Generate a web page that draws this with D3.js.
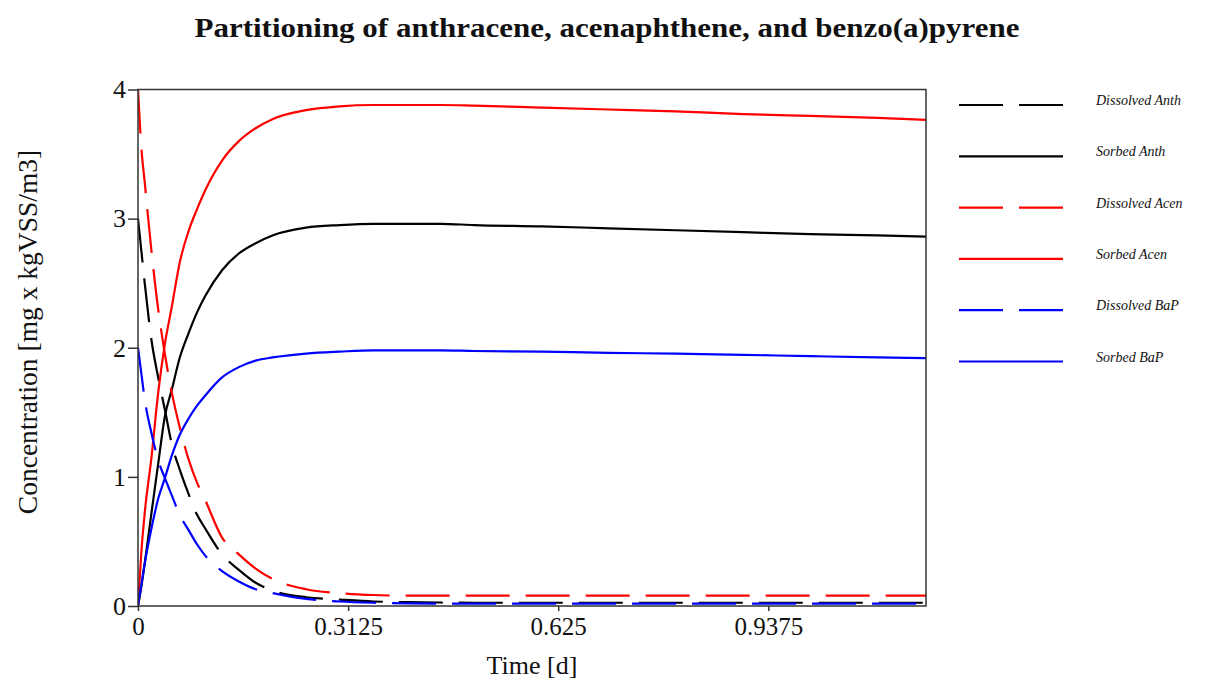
<!DOCTYPE html>
<html>
<head>
<meta charset="utf-8">
<script src="https://cdn.jsdelivr.net/npm/d3@7"></script>
<style>
  body { margin: 0; background: #fff; }
  text { font-family: "Liberation Serif", "Times New Roman", serif; fill: #111; }
</style>
</head>
<body>
<svg width="1209" height="682"></svg>
<script>
// time axis [d]
var time = [0, 0.005, 0.01, 0.02, 0.03, 0.04, 0.05, 0.0625, 0.075, 0.0875, 0.1, 0.125, 0.15, 0.175,
            0.2, 0.25, 0.3, 0.35, 0.4, 0.45, 0.5, 0.6, 0.7, 0.8, 0.9, 1.0, 1.1, 1.172];

var dissAnth = [3.0, 2.75, 2.5, 2.06, 1.77, 1.52, 1.26, 1.05, 0.87, 0.71, 0.6, 0.4, 0.28, 0.18,
                0.12, 0.068, 0.05, 0.035, 0.03, 0.027, 0.025, 0.025, 0.025, 0.025, 0.025, 0.025, 0.025, 0.025];
var sorbAnth = [0, 0.15, 0.33, 0.72, 1.1, 1.47, 1.67, 1.93, 2.11, 2.27, 2.40, 2.6, 2.73, 2.81,
                2.87, 2.93, 2.95, 2.96, 2.96, 2.96, 2.95, 2.94, 2.925, 2.91, 2.895, 2.88, 2.87, 2.86];
var dissAcen = [4.0, 3.55, 3.28, 2.75, 2.3, 1.95, 1.66, 1.375, 1.14, 0.96, 0.82, 0.53, 0.40, 0.29,
                0.21, 0.13, 0.1, 0.085, 0.08, 0.08, 0.08, 0.08, 0.08, 0.08, 0.08, 0.08, 0.08, 0.08];
var sorbAcen = [0, 0.42, 0.72, 1.15, 1.65, 2.03, 2.31, 2.67, 2.9, 3.07, 3.22, 3.45, 3.6, 3.7,
                3.77, 3.84, 3.87, 3.88, 3.88, 3.88, 3.875, 3.86, 3.845, 3.83, 3.81, 3.795, 3.78, 3.765];
var dissBaP = [2.0, 1.8, 1.6, 1.34, 1.13, 0.99, 0.86, 0.70, 0.59, 0.48, 0.39, 0.27, 0.19, 0.13,
               0.10, 0.055, 0.035, 0.025, 0.02, 0.018, 0.018, 0.018, 0.018, 0.018, 0.018, 0.018, 0.018, 0.018];
var sorbBaP = [0, 0.17, 0.33, 0.6, 0.83, 0.99, 1.16, 1.33, 1.45, 1.55, 1.63, 1.77, 1.85, 1.90,
               1.925, 1.955, 1.97, 1.98, 1.98, 1.98, 1.975, 1.97, 1.96, 1.955, 1.945, 1.935, 1.925, 1.92];

var xTicks = [0, 0.3125, 0.625, 0.9375];
var yTicks = [0, 1, 2, 3, 4];

var series = [
  {name: "Dissolved Anth", values: dissAnth, color: "#000", dash: "44,16"},
  {name: "Sorbed Anth",    values: sorbAnth, color: "#000", dash: null},
  {name: "Dissolved Acen", values: dissAcen, color: "#f00", dash: "44,16"},
  {name: "Sorbed Acen",    values: sorbAcen, color: "#f00", dash: null},
  {name: "Dissolved BaP",  values: dissBaP,  color: "#00f", dash: "44,16"},
  {name: "Sorbed BaP",     values: sorbBaP,  color: "#00f", dash: null}
];

var svg = d3.select("svg");
var pL = 138, pR = 926, pT = 89.5, pB = 606;

var x = d3.scaleLinear().domain([0, 1.172]).range([pL, pR]);
var y = d3.scaleLinear().domain([0, 4]).range([pB, pT]);

svg.append("text")
  .attr("x", 607).attr("y", 37)
  .attr("text-anchor", "middle")
  .attr("font-size", 27).attr("font-weight", "bold")
  .attr("textLength", 825).attr("lengthAdjust", "spacingAndGlyphs")
  .text("Partitioning of anthracene, acenaphthene, and benzo(a)pyrene");

svg.append("clipPath").attr("id", "clip")
  .append("rect").attr("x", pL).attr("y", pT).attr("width", pR - pL).attr("height", pB - pT);

var line = d3.line()
  .x((d, i) => x(time[i]))
  .y(d => y(d))
  .curve(d3.curveMonotoneX);

svg.append("g").attr("clip-path", "url(#clip)")
  .selectAll("path")
  .data(series)
  .enter()
  .append("path")
    .attr("d", d => line(d.values))
    .attr("fill", "none")
    .attr("stroke", d => d.color)
    .attr("stroke-width", 2.2)
    .attr("stroke-dasharray", d => d.dash);

// frame
svg.append("rect")
  .attr("x", pL).attr("y", pT)
  .attr("width", pR - pL).attr("height", pB - pT)
  .attr("fill", "none").attr("stroke", "#333").attr("stroke-width", 1.5);

var xAxis = svg.append("g")
  .attr("transform", "translate(0," + pB + ")")
  .call(d3.axisBottom(x).tickValues(xTicks).tickFormat(d => d).tickSize(5).tickSizeOuter(0));
xAxis.select(".domain").remove();
xAxis.selectAll("line").attr("stroke", "#333").attr("stroke-width", 1.5);
xAxis.selectAll("text").attr("font-size", 25).attr("dy", "0.85em").attr("fill", "#111")
  .attr("font-family", "Liberation Serif, serif");

var yAxis = svg.append("g")
  .attr("transform", "translate(" + pL + ",0)")
  .call(d3.axisLeft(y).tickValues(yTicks).tickFormat(d3.format("d")).tickSize(10).tickSizeOuter(0));
yAxis.select(".domain").remove();
yAxis.selectAll("line").attr("stroke", "#333").attr("stroke-width", 1.5);
yAxis.selectAll("text").attr("font-size", 26).attr("x", -12).attr("fill", "#111")
  .attr("font-family", "Liberation Serif, serif");

svg.append("text")
  .attr("x", (pL + pR) / 2).attr("y", 674)
  .attr("text-anchor", "middle").attr("font-size", 26)
  .text("Time [d]");

svg.append("text")
  .attr("transform", "translate(37,332) rotate(-90)")
  .attr("text-anchor", "middle").attr("font-size", 27.5)
  .text("Concentration [mg x kgVSS/m3]");

// legend
var legend = svg.append("g")
  .selectAll("g")
  .data(series)
  .enter()
  .append("g")
    .attr("transform", (d, i) => "translate(959," + (105 + i * 51.3) + ")");

legend.append("line")
  .attr("x1", 0).attr("x2", 104)
  .attr("stroke", d => d.color)
  .attr("stroke-width", 2.2)
  .attr("stroke-dasharray", d => d.dash);

legend.append("text")
  .attr("x", 137).attr("y", 0)
  .attr("font-size", 14).attr("font-style", "italic")
  .text(d => d.name);
</script>
</body>
</html>
